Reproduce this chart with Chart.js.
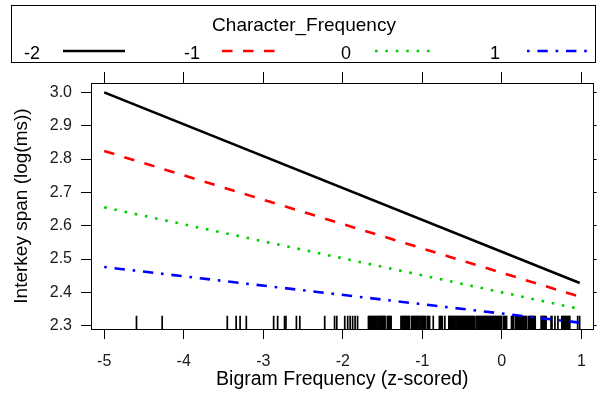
<!DOCTYPE html>
<html>
<head>
<meta charset="utf-8">
<script src="https://cdn.jsdelivr.net/npm/chart.js@4/dist/chart.umd.min.js"></script>
<style>
html,body{margin:0;padding:0;background:#fff;}
#wrap{width:602px;height:394px;}
</style>
</head>
<body>
<div id="wrap"><canvas id="c" width="602" height="394"></canvas></div>
<script>
// ---- data ----
const seriesLabels = ['-2', '-1', '0', '1'];
const bigramX = [-5, 0.98];
const cf_m2 = [3.000, 2.428];
const cf_m1 = [2.824, 2.387];
const cf_0  = [2.655, 2.350];
const cf_p1 = [2.476, 2.309];
const xTickValues = [-5, -4, -3, -2, -1, 0, 1];
const xTickLabels = ['-5', '-4', '-3', '-2', '-1', '0', '1'];
const yTickValues = [2.3, 2.4, 2.5, 2.6, 2.7, 2.8, 2.9, 3.0];
const yTickLabels = ['2.3', '2.4', '2.5', '2.6', '2.7', '2.8', '2.9', '3.0'];
const rugX = [
 -4.594, -4.271, -3.452, -3.341, -3.291, -3.213, -2.869, -2.819, -2.732, -2.714,
 -2.583, -2.540, -2.227, -2.103, -2.075, -1.975, -1.938, -1.907, -1.876, -1.845, -1.814,
 -1.677, -1.665, -1.653, -1.641, -1.629, -1.617, -1.605, -1.593, -1.581, -1.569, -1.557,
 -1.545, -1.533, -1.521, -1.509, -1.500, -1.490, -1.478, -1.468, -1.440, -1.428, -1.416,
 -1.404, -1.392,
 -1.268, -1.256, -1.244, -1.232, -1.220, -1.208, -1.196, -1.184, -1.172, -1.165,
 -1.137, -1.125, -1.113, -1.101, -1.089, -1.077, -1.065, -1.053, -1.041, -1.029, -1.017,
 -1.005, -0.993, -0.981, -0.969, -0.957, -0.933, -0.921, -0.908,
 -0.862, -0.785, -0.773, -0.761, -0.748, -0.716, -0.666,
 -0.660, -0.648, -0.636, -0.624, -0.612, -0.600, -0.588, -0.576, -0.564, -0.552, -0.540,
 -0.528, -0.516, -0.504, -0.492, -0.480, -0.468, -0.456, -0.444, -0.432, -0.420, -0.408,
 -0.396, -0.384, -0.372, -0.360, -0.348, -0.324, -0.312, -0.300, -0.288, -0.276, -0.264,
 -0.252, -0.240, -0.228,
 -0.213, -0.201, -0.189, -0.177, -0.165, -0.153, -0.141, -0.129, -0.117, -0.105, -0.093,
 -0.081, -0.069, -0.057, -0.045, -0.033, -0.021,
 -0.014, -0.002, 0.023, 0.035, 0.048, 0.060, 0.122, 0.135, 0.147, 0.172, 0.184, 0.197,
 0.209, 0.222, 0.234, 0.246, 0.259, 0.271, 0.284, 0.296, 0.308, 0.333, 0.346, 0.358,
 0.371, 0.383, 0.395, 0.408, 0.420, 0.495, 0.507, 0.519, 0.532, 0.544, 0.557, 0.619,
 0.631, 0.668, 0.706, 0.755, 0.768, 0.780, 0.793, 0.805, 0.817, 0.830, 0.842, 0.855,
 0.954, 0.979
];
const legendTitle = 'Character_Frequency';
const xTitle = 'Bigram Frequency (z-scored)';
const yTitle = 'Interkey span (log(ms))';

// ---- chart ----
const X_MIN = -5.166, X_MAX = 1.155, Y_MIN = 2.290, Y_MAX = 3.028;
const FONT = "'Liberation Sans', Arial, sans-serif";

function pts(ys) { return bigramX.map((x, i) => ({x: x, y: ys[i]})); }

const lineStyle = [
  {color: '#000000', dash: []},
  {color: '#FF0000', dash: [10.5, 10.5]},
  {color: '#00CD00', dash: [2.6, 7.8]},
  {color: '#0000FF', dash: [2.6, 7.8, 10.4, 7.8]}
];
const seriesData = [cf_m2, cf_m1, cf_0, cf_p1];

const datasets = seriesData.map((ys, i) => ({
  type: 'line',
  label: seriesLabels[i],
  data: pts(ys),
  borderColor: lineStyle[i].color,
  borderDash: lineStyle[i].dash,
  borderWidth: 2.6,
  borderCapStyle: 'butt',
  pointRadius: 0,
  tension: 0,
  fill: false,
  isSeries: true
}));
datasets.push({
  type: 'scatter',
  label: 'rug',
  data: rugX.map(v => ({x: v, y: 2.31})),
  pointStyle: 'line',
  rotation: 90,
  radius: 6.65,
  borderWidth: 1.7,
  borderColor: '#000',
  backgroundColor: '#000',
  showLine: false
});

function fixTicks(vals) {
  return function (scale) { scale.ticks = vals.map(v => ({value: v})); };
}

const legendPlugin = {
  id: 'latticeKey',
  afterDraw(chart) {
    const ctx = chart.ctx;
    ctx.save();
    ctx.strokeStyle = '#000';
    ctx.lineWidth = 1;
    ctx.strokeRect(11.5, 5.5, 584, 57);
    ctx.fillStyle = '#000';
    ctx.font = '19px ' + FONT;
    ctx.textAlign = 'center';
    ctx.textBaseline = 'middle';
    ctx.fillText(legendTitle, 304, 26);
    const labelRight = [40, 200, 351, 500];
    const lineStart = [63, 222, 375, 527];
    const lineEnd = [125, 275, 432, 587];
    ctx.font = '18px ' + FONT;
    ctx.textAlign = 'right';
    chart.data.datasets.forEach((ds, i) => {
      if (!ds.isSeries) return;
      ctx.fillStyle = '#000';
      ctx.fillText(ds.label, labelRight[i], 54);
      ctx.beginPath();
      ctx.strokeStyle = ds.borderColor;
      ctx.lineWidth = ds.borderWidth;
      ctx.lineCap = 'butt';
      ctx.setLineDash(ds.borderDash);
      ctx.moveTo(lineStart[i], 51);
      ctx.lineTo(lineEnd[i], 51);
      ctx.stroke();
      ctx.setLineDash([]);
    });
    ctx.restore();
  }
};

const axisGrid = (len) => ({display: true, drawOnChartArea: false, drawTicks: true, tickLength: len, color: '#000', lineWidth: 1});
const axisBorder = {display: true, color: '#000', width: 1};

new Chart(document.getElementById('c'), {
  data: {datasets: datasets},
  options: {
    responsive: false,
    animation: false,
    events: [],
    layout: {padding: {top: 72, left: 0, right: 0, bottom: 0}},
    plugins: {legend: {display: false}, tooltip: {enabled: false}},
    scales: {
      x: {
        type: 'linear', position: 'bottom', min: X_MIN, max: X_MAX,
        afterBuildTicks: fixTicks(xTickValues),
        afterFit(s) { s.height = 65; },
        grid: axisGrid(10), border: axisBorder,
        ticks: {
          padding: 13, color: '#1a1a1a', font: {family: FONT, size: 16},
          maxRotation: 0, autoSkip: false,
          callback: (v) => { const k = xTickValues.indexOf(v); return k >= 0 ? xTickLabels[k] : ''; }
        },
        title: {display: true, text: xTitle, color: '#000', font: {family: FONT, size: 19.5}, padding: {top: 3, bottom: 3}}
      },
      x2: {
        type: 'linear', position: 'top', min: X_MIN, max: X_MAX,
        afterBuildTicks: fixTicks(xTickValues),
        afterFit(s) { s.height = 11; },
        grid: axisGrid(11), border: axisBorder,
        ticks: {display: false}
      },
      y: {
        type: 'linear', position: 'left', min: Y_MIN, max: Y_MAX,
        afterBuildTicks: fixTicks(yTickValues),
        afterFit(s) { s.width = 91; },
        grid: axisGrid(10), border: axisBorder,
        ticks: {
          padding: 9, color: '#1a1a1a', font: {family: FONT, size: 16}, autoSkip: false,
          callback: (v) => { const k = yTickValues.findIndex(t => Math.abs(t - v) < 1e-9); return k >= 0 ? yTickLabels[k] : ''; }
        },
        title: {display: true, text: yTitle, color: '#000', font: {family: FONT, size: 19}, padding: {top: 10, bottom: 10}}
      },
      y2: {
        type: 'linear', position: 'right', min: Y_MIN, max: Y_MAX,
        afterBuildTicks: fixTicks(yTickValues),
        afterFit(s) { s.width = 3; },
        grid: axisGrid(3), border: axisBorder,
        ticks: {display: false}
      }
    }
  },
  plugins: [legendPlugin]
});
</script>
</body>
</html>
